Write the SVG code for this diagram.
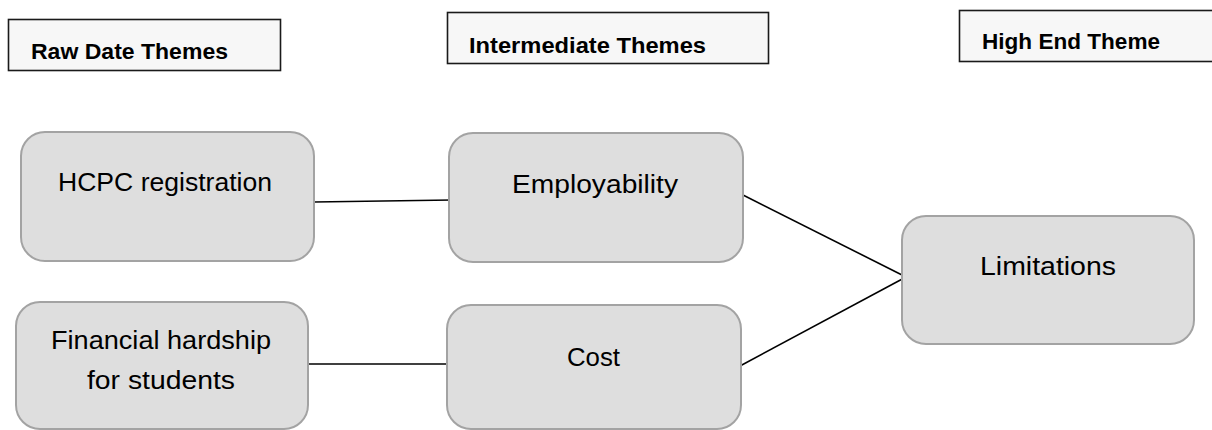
<svg xmlns="http://www.w3.org/2000/svg" width="1212" height="430" viewBox="0 0 1212 430">
<style>
.hdr{fill:#f7f7f7;stroke:#1a1a1a;stroke-width:1.6}
.ht{font-family:"Liberation Sans",Arial,sans-serif;font-weight:bold;font-size:22px;fill:#000}
.box{fill:#dedede;stroke:#a3a3a3;stroke-width:2}
.nt{font-family:"Liberation Sans",Arial,sans-serif;font-size:25px;fill:#000}
.conn line{stroke:#000;stroke-width:1.6}
</style>
<rect width="1212" height="430" fill="#fff"/>
<g id="hdr-raw"><rect class="hdr" x="8.5" y="19.5" width="272" height="51"/><text class="ht" x="31" y="59" textLength="197" lengthAdjust="spacingAndGlyphs">Raw Date Themes</text></g>
<g id="hdr-int"><rect class="hdr" x="447.5" y="12.5" width="321" height="51"/><text class="ht" x="469" y="53" textLength="237" lengthAdjust="spacingAndGlyphs">Intermediate Themes</text></g>
<g id="hdr-high"><rect class="hdr" x="959.5" y="10.5" width="270" height="51"/><text class="ht" x="982" y="49" textLength="178" lengthAdjust="spacingAndGlyphs">High End Theme</text></g>
<g class="conn" id="connectors">
<line x1="314" y1="202" x2="452" y2="200"/>
<line x1="308" y1="364" x2="447" y2="364"/>
<line x1="743" y1="195" x2="906" y2="277"/>
<line x1="740" y1="366" x2="906" y2="277"/>
</g>
<g id="n-hcpc"><rect class="box" x="21" y="132" width="293" height="129" rx="24"/><text class="nt" x="58" y="191" textLength="214" lengthAdjust="spacingAndGlyphs">HCPC registration</text></g>
<g id="n-fin"><rect class="box" x="16" y="302" width="292" height="127" rx="24"/><text class="nt" x="51" y="349" textLength="220" lengthAdjust="spacingAndGlyphs">Financial hardship</text><text class="nt" x="87" y="389" textLength="148" lengthAdjust="spacingAndGlyphs">for students</text></g>
<g id="n-emp"><rect class="box" x="449" y="133" width="294" height="129" rx="24"/><text class="nt" x="512" y="193" textLength="166" lengthAdjust="spacingAndGlyphs">Employability</text></g>
<g id="n-cost"><rect class="box" x="447" y="305" width="294" height="124" rx="24"/><text class="nt" x="567" y="366" textLength="53" lengthAdjust="spacingAndGlyphs">Cost</text></g>
<g id="n-lim"><rect class="box" x="902" y="216" width="292" height="128" rx="24"/><text class="nt" x="980" y="275" textLength="136" lengthAdjust="spacingAndGlyphs">Limitations</text></g>
</svg>
